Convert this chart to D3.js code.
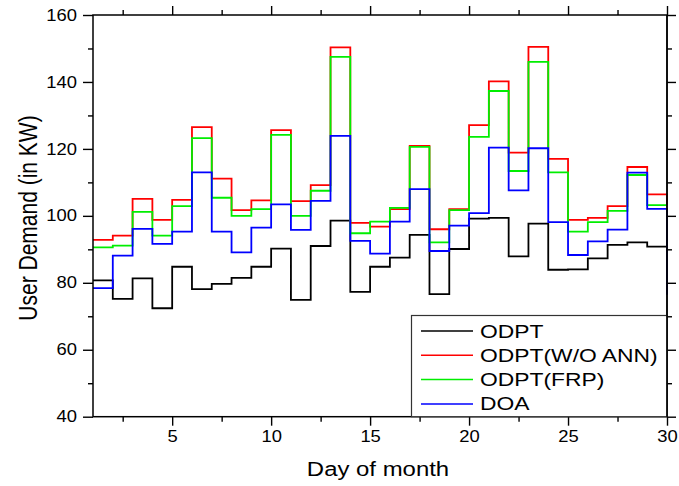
<!DOCTYPE html>
<html>
<head>
<meta charset="utf-8">
<script src="https://cdn.jsdelivr.net/npm/d3@7/dist/d3.min.js"></script>
<style>
  html, body { margin: 0; padding: 0; background: #fff; }
  svg text { font-family: "Liberation Sans", Arial, sans-serif; fill: #000; }
</style>
</head>
<body>
<svg id="chart" width="679" height="486"></svg>
<script>
const days = d3.range(1, 31);
const seriesNames = ["ODPT", "ODPT(W/O ANN)", "ODPT(FRP)", "DOA"];
const seriesColors = ["#000000", "#ff0000", "#00ee00", "#0000ff"];
const odpt  = [80.7, 75.2, 81.3, 72.4, 84.8, 78.1, 79.7, 81.5, 84.8, 90.2, 74.9, 91.0, 98.6, 77.3, 84.8, 87.5, 94.3, 76.6, 90.1, 99.2, 99.4, 87.9, 97.7, 83.9, 84.0, 87.3, 91.3, 92.1, 90.8, 90.8];
const woAnn = [92.8, 94.1, 105.1, 98.8, 104.8, 126.5, 111.1, 101.7, 104.6, 125.6, 104.4, 109.2, 150.3, 97.9, 96.8, 102.0, 120.9, 96.0, 102.0, 127.1, 140.2, 118.9, 150.5, 117.0, 98.8, 99.4, 102.9, 114.6, 106.4, 103.3];
const frp   = [90.6, 91.1, 101.2, 94.1, 102.9, 123.2, 105.4, 100.0, 102.0, 124.2, 100.0, 107.5, 147.5, 94.8, 98.3, 102.4, 120.6, 92.1, 101.7, 123.6, 137.3, 113.4, 146.0, 113.0, 95.3, 98.1, 101.5, 112.2, 103.2, 103.2];
const doa   = [78.4, 88.1, 96.1, 91.6, 95.3, 113.0, 95.3, 89.1, 96.5, 103.4, 95.8, 104.5, 123.9, 92.5, 88.7, 98.3, 108.0, 89.5, 97.1, 100.8, 120.4, 107.6, 120.2, 98.1, 88.3, 92.4, 95.9, 112.9, 102.1, 76.4];
const xMajorTicks = [5, 10, 15, 20, 25, 30];
const xMinorTicks = [2.5, 7.5, 12.5, 17.5, 22.5, 27.5];
const yMajorTicks = [40, 60, 80, 100, 120, 140, 160];
const yMinorTicks = [50, 70, 90, 110, 130, 150];
const xTitle = "Day of month";
const yTitle = "User Demand (in KW)";

const allSeries = [odpt, woAnn, frp, doa];

const svg = d3.select("#chart");
const L = 93, R = 667, T = 15, B = 416.7;
const x = d3.scaleLinear().domain([1, 30]).range([L, R]);
const y = d3.scaleLinear().domain([40, 160]).range([B, T]);
const SX = 1.15; // horizontal stretch of text seen in the reference

// series
const line = d3.line().x((d, i) => x(days[i])).y(d => y(d)).curve(d3.curveStepAfter);
allSeries.forEach((s, k) => {
  svg.append("path").datum(s)
    .attr("d", line)
    .attr("fill", "none")
    .attr("stroke", seriesColors[k])
    .attr("stroke-width", 1.8);
});

// axes
function styleAxis(g) {
  g.select(".domain").remove();
  g.selectAll("line").attr("stroke", "#000").attr("stroke-width", 1.4);
}
function stretchText(g) {
  g.selectAll("text").each(function () {
    const t = d3.select(this);
    const tx = +t.attr("x") || 0;
    t.attr("x", tx / SX).attr("transform", `scale(${SX},1)`)
     .attr("font-size", 16).attr("font-family", "Liberation Sans, Arial");
  });
}
const fmt = d3.format("d");
// bottom major
svg.append("g").attr("transform", `translate(0,${B})`)
  .call(d3.axisBottom(x).tickValues(xMajorTicks).tickSize(9).tickPadding(5).tickFormat(fmt))
  .call(styleAxis).call(stretchText);
svg.append("g").attr("transform", `translate(0,${B})`)
  .call(d3.axisBottom(x).tickValues(xMinorTicks).tickSize(5).tickFormat(""))
  .call(styleAxis);
// top
svg.append("g").attr("transform", `translate(0,${T})`)
  .call(d3.axisTop(x).tickValues(xMajorTicks).tickSize(9).tickFormat(""))
  .call(styleAxis);
svg.append("g").attr("transform", `translate(0,${T})`)
  .call(d3.axisTop(x).tickValues(xMinorTicks).tickSize(5).tickFormat(""))
  .call(styleAxis);
// left
svg.append("g").attr("transform", `translate(${L},0)`)
  .call(d3.axisLeft(y).tickValues(yMajorTicks).tickSize(10).tickPadding(6).tickFormat(fmt))
  .call(styleAxis).call(stretchText);
svg.append("g").attr("transform", `translate(${L},0)`)
  .call(d3.axisLeft(y).tickValues(yMinorTicks).tickSize(5).tickFormat(""))
  .call(styleAxis);
// right
svg.append("g").attr("transform", `translate(${R},0)`)
  .call(d3.axisRight(y).tickValues(yMajorTicks).tickSize(9).tickFormat(""))
  .call(styleAxis);
svg.append("g").attr("transform", `translate(${R},0)`)
  .call(d3.axisRight(y).tickValues(yMinorTicks).tickSize(5).tickFormat(""))
  .call(styleAxis);

// frame
svg.append("rect").attr("x", L).attr("y", T).attr("width", R - L).attr("height", B - T)
  .attr("fill", "none").attr("stroke", "#000").attr("stroke-width", 1.5);

// titles
svg.append("text")
  .attr("transform", `translate(${(L + R) / 2 - 2},476) scale(1.14,1)`)
  .attr("text-anchor", "middle").attr("font-size", 21).text(xTitle);
svg.append("text")
  .attr("transform", `translate(37,218) scale(1.2,1) rotate(-90)`)
  .attr("text-anchor", "middle").attr("font-size", 21).text(yTitle);

// legend
const lg = svg.append("g");
lg.append("rect").attr("x", 411.5).attr("y", 315.5).attr("width", R - 411.5).attr("height", B - 315.5)
  .attr("fill", "#fff").attr("stroke", "#333").attr("stroke-width", 1.2);
seriesNames.forEach((name, k) => {
  const cy = 331 + k * 24.3;
  lg.append("line").attr("x1", 421).attr("x2", 473).attr("y1", cy).attr("y2", cy)
    .attr("stroke", seriesColors[k]).attr("stroke-width", 1.5);
  lg.append("text").attr("transform", `translate(480,${cy + 6.5}) scale(1.27,1)`)
    .attr("font-size", 18).text(name);
});
// redraw right axis line over legend
svg.append("line").attr("x1", R).attr("x2", R).attr("y1", T).attr("y2", B)
  .attr("stroke", "#000").attr("stroke-width", 1.5);
</script>
</body>
</html>
